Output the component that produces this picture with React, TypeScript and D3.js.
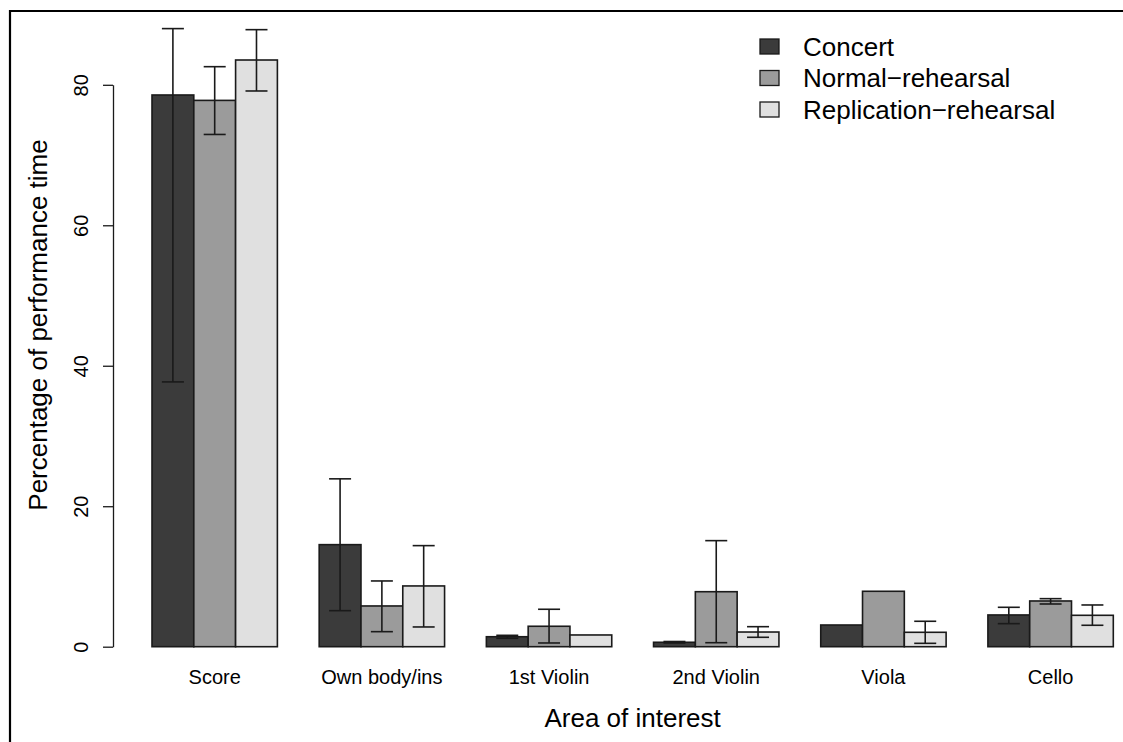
import * as d3 from "d3";
import { useEffect, useRef } from "react";

const categories = ["Score", "Own body/ins", "1st Violin", "2nd Violin", "Viola", "Cello"];
const seriesNames = ["Concert", "Normal\u2212rehearsal", "Replication\u2212rehearsal"];
const seriesColors = ["#3b3b3b", "#9b9b9b", "#e0e0e0"];

// bar heights (% of performance time)
const concert = [78.55, 14.53, 1.42, 0.63, 3.09, 4.52];
const normal = [77.78, 5.8, 2.91, 7.83, 7.89, 6.51];
const replication = [83.53, 8.65, 1.67, 2.09, 2.05, 4.47];

// error bar bounds (null = no error bar drawn)
const concertLo = [37.7, 5.13, 1.2, 0.53, null, 3.28];
const concertHi = [88.0, 23.9, 1.62, 0.74, null, 5.61];
const normalLo = [72.93, 2.14, 0.53, 0.57, null, 6.08];
const normalHi = [82.58, 9.36, 5.33, 15.1, null, 6.84];
const replicationLo = [79.12, 2.81, null, 1.34, 0.48, 3.05];
const replicationHi = [87.85, 14.39, null, 2.85, 3.62, 5.94];

const yTicks = [0, 20, 40, 60, 80];

function App() {
    const ref = useRef<SVGSVGElement>(null);

    useEffect(() => {
        const svg = d3.select(ref.current);
        svg.selectAll("*").remove();

        const width = 1123;
        const height = 742;
        const font = "'Liberation Sans', Arial, sans-serif";

        svg.attr("width", width).attr("height", height).style("display", "block");

        const values = [concert, normal, replication];
        const los = [concertLo, normalLo, replicationLo];
        const his = [concertHi, normalHi, replicationHi];

        const rows = categories.flatMap((cat, i) =>
            seriesNames.map((s, j) => ({
                cat,
                series: j,
                value: values[j][i],
                lo: los[j][i],
                hi: his[j][i],
            }))
        );

        // figure frame (only left and top edges are visible)
        svg.append("path")
            .attr("d", "M10,760V11H1140")
            .attr("fill", "none")
            .attr("stroke", "#000")
            .attr("stroke-width", 2.2);

        const x0 = d3
            .scaleBand()
            .domain(categories)
            .range([152, 1113.3])
            .paddingInner(0.25)
            .paddingOuter(0);

        const x1 = d3
            .scaleBand<number>()
            .domain([0, 1, 2])
            .range([0, x0.bandwidth()])
            .padding(0);

        const y = d3.scaleLinear().domain([0, 80]).range([646.7, 84.8]);

        // bars
        svg.append("g")
            .selectAll("rect")
            .data(rows)
            .enter()
            .append("rect")
            .attr("x", d => (x0(d.cat) || 0) + (x1(d.series) || 0))
            .attr("y", d => y(d.value))
            .attr("width", x1.bandwidth())
            .attr("height", d => y(0) - y(d.value))
            .attr("fill", d => seriesColors[d.series])
            .attr("stroke", "#1a1a1a")
            .attr("stroke-width", 1.6);

        // error bars
        const errs = rows.filter(d => d.lo != null && d.hi != null);
        const cap = 11;
        const eg = svg.append("g").attr("stroke", "#1a1a1a").attr("stroke-width", 1.6);
        errs.forEach(d => {
            const cx = (x0(d.cat) || 0) + (x1(d.series) || 0) + x1.bandwidth() / 2;
            eg.append("line")
                .attr("x1", cx).attr("x2", cx)
                .attr("y1", y(d.lo as number)).attr("y2", y(d.hi as number));
            [d.lo, d.hi].forEach(v => {
                eg.append("line")
                    .attr("x1", cx - cap).attr("x2", cx + cap)
                    .attr("y1", y(v as number)).attr("y2", y(v as number));
            });
        });

        // y axis
        const yAxis = svg.append("g")
            .attr("transform", "translate(113,0)")
            .call(d3.axisLeft(y).tickValues(yTicks).tickSize(10).tickSizeOuter(0).tickPadding(0));
        yAxis.select(".domain").attr("stroke", "#1a1a1a").attr("stroke-width", 1.3);
        yAxis.selectAll(".tick line").attr("stroke", "#1a1a1a").attr("stroke-width", 1.3);
        yAxis.selectAll(".tick text")
            .attr("x", 0)
            .attr("y", 0)
            .attr("dy", null)
            .attr("transform", "translate(-32,0) rotate(-90)")
            .attr("text-anchor", "middle")
            .attr("dominant-baseline", "central")
            .attr("fill", "#000")
            .style("font-family", font)
            .style("font-size", "20px");

        // x category labels
        svg.append("g")
            .selectAll("text")
            .data(categories)
            .enter()
            .append("text")
            .attr("x", d => (x0(d) || 0) + x0.bandwidth() / 2)
            .attr("y", 684)
            .attr("text-anchor", "middle")
            .style("font-family", font)
            .style("font-size", "20px")
            .text(d => d);

        // axis titles
        svg.append("text")
            .attr("x", 632.6)
            .attr("y", 727)
            .attr("text-anchor", "middle")
            .style("font-family", font)
            .style("font-size", "26px")
            .text("Area of interest");

        svg.append("text")
            .attr("transform", "translate(47,325) rotate(-90)")
            .attr("text-anchor", "middle")
            .style("font-family", font)
            .style("font-size", "26px")
            .text("Percentage of performance time");

        // legend
        const legend = svg.append("g");
        seriesNames.forEach((name, i) => {
            const cy = 46.5 + i * 31.5;
            legend.append("rect")
                .attr("x", 760)
                .attr("y", cy - 7.5)
                .attr("width", 19)
                .attr("height", 15)
                .attr("fill", seriesColors[i])
                .attr("stroke", "#1a1a1a")
                .attr("stroke-width", 1.3);
            legend.append("text")
                .attr("x", 803)
                .attr("y", cy + 9)
                .style("font-family", font)
                .style("font-size", "26px")
                .text(name);
        });
    }, []);

    return (
        <div style={{ position: "absolute", left: 0, top: 0 }}>
            <svg ref={ref} />
        </div>
    );
}

export default App;
